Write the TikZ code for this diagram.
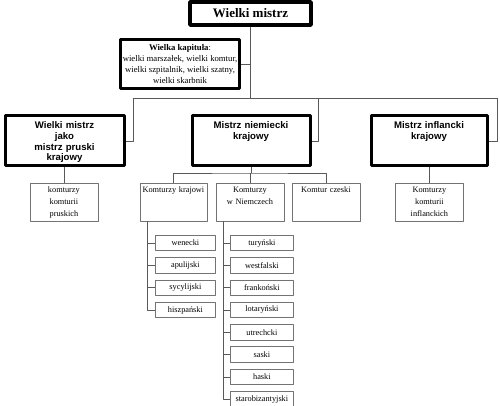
\documentclass[tikz,border=0pt]{standalone}
\usepackage{fontspec}
\setmainfont{Liberation Serif}
\setsansfont{Liberation Sans}
\usepackage{tikz}
\usetikzlibrary{positioning}
\tikzset{
  conn/.style={draw=black!65,line width=0.8pt},
  topbox/.style={draw,line width=3.5pt,minimum width=121pt,minimum height=23pt,inner sep=0pt,font=\fontsize{13}{15}\selectfont\bfseries},
  kapbox/.style={draw,line width=3pt,minimum width=119pt,minimum height=49pt,inner sep=0pt,align=center,font=\fontsize{8.7}{11}\selectfont},
  landbox/.style={draw,line width=3pt,anchor=north west,inner xsep=0pt,inner ysep=0pt,align=center,text height=12.5pt,text depth=37.5pt,font=\sffamily\bfseries\fontsize{9.6}{10.8}\selectfont},
  komtbox/.style={draw=black!55,line width=0.8pt,anchor=north west,inner xsep=0pt,inner ysep=0pt,align=center,text width=68pt,text height=9.5pt,text depth=28.5pt,font=\fontsize{8.3}{12}\selectfont},
  leafbox/.style={draw=black!55,line width=0.8pt,anchor=west,minimum height=15.5pt,inner sep=0pt,font=\fontsize{8.3}{10}\selectfont}
}
\begin{document}
\begin{tikzpicture}[x=1pt,y=-1pt,line join=round]
\useasboundingbox (0,0) rectangle (500,406);
% --- top of the order
\node[topbox] (wm) at (250.5,13.5) {Wielki mistrz};
\node[kapbox] (kap) at (180,64) {\textbf{Wielka kapituła}:\\wielki marszałek, wielki komtur,\\wielki szpitalnik, wielki szatny,\\wielki skarbnik};
% --- land masters
\node[landbox,text width=119pt] (pru) at (3.5,114.5) {Wielki mistrz\\jako\\mistrz pruski\\krajowy};
\node[landbox,text width=118pt] (niem) at (190.5,114.5) {Mistrz niemiecki\\krajowy};
\node[landbox,text width=116pt] (infl) at (369.5,114.5) {Mistrz inflancki\\krajowy};
\coordinate (busL) at (133,98);
\coordinate (busM) at (318,98);
\coordinate (busR) at (497,98);
\draw[conn] (wm.south) -- (wm.south |- busL);
\draw[conn] (kap.east) -- (kap.east -| wm.south);
\draw[conn] (busL) -- (busR);
\draw[conn] (busL) |- (pru.east);
\draw[conn] (busM) |- (niem.east);
\draw[conn] (busR) |- (infl.east);
% --- commanderies
\node[komtbox] (pk) at (29.5,182.5) {komturzy\\komturii\\pruskich};
\node[komtbox,text width=67pt] (kk) at (139.5,182.5) {Komturzy krajowi};
\node[komtbox] (kn) at (215.5,182.5) {Komturzy\\w Niemczech};
\node[komtbox] (kc) at (291.5,182.5) {Komtur czeski};
\node[komtbox] (ik) at (395,182.5) {Komturzy\\komturii\\inflanckich};
\coordinate (nbus) at (250,173);
\draw[conn] (pru.south) -- (pru.south |- pk.north);
\draw[conn] (niem.south) -- (niem.south |- nbus);
\draw[conn] (kk.north) |- (nbus) -| (kc.north);
\draw[conn] (kn.north) -- (kn.north |- nbus);
\draw[conn] (infl.south) -- (infl.south |- ik.north);
% --- bailiwicks
\coordinate (kspine) at (147,221);
\coordinate (nspine) at (223,221);
\foreach \nm [count=\i] in {wenecki,apulijski,sycylijski,hiszpański}
  \node[leafbox,minimum width=60pt] (k\i) at (155,220.8+22.3*\i) {\nm};
\foreach \nm [count=\i] in {turyński,westfalski,frankoński,lotaryński,utrechcki,saski,haski,starobizantyjski}
  \node[leafbox,minimum width=63pt] (n\i) at (230,220.8+22.3*\i) {\nm};
\draw[conn] (kspine) |- (k4.west);
\foreach \i in {1,2,3} \draw[conn] (k\i.west) -- (k\i.west -| kspine);
\draw[conn] (nspine) |- (n8.west);
\foreach \i in {1,...,7} \draw[conn] (n\i.west) -- (n\i.west -| nspine);
\end{tikzpicture}
\end{document}
